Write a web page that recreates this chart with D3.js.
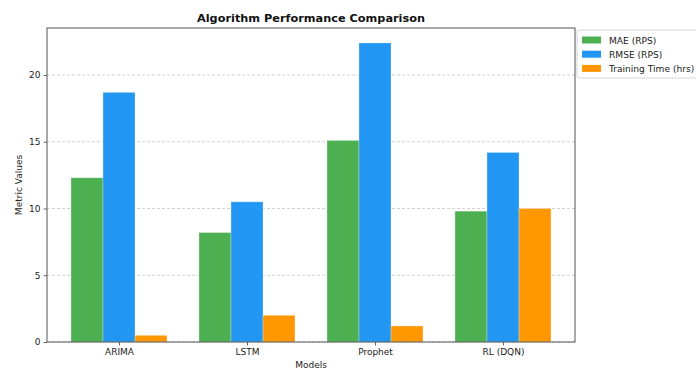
<!DOCTYPE html>
<html><head><meta charset="utf-8">
<script src="https://cdn.jsdelivr.net/npm/d3@7"></script>
<style>body{margin:0;background:#fff;} svg{display:block;font-family:"DejaVu Sans",sans-serif;}</style>
</head><body>
<svg id="c" width="696" height="370"></svg>
<script>
const categories = ["ARIMA", "LSTM", "Prophet", "RL (DQN)"];
const seriesNames = ["MAE (RPS)", "RMSE (RPS)", "Training Time (hrs)"];
const maeValues = [12.3, 8.2, 15.1, 9.8];
const rmseValues = [18.7, 10.5, 22.4, 14.2];
const trainingValues = [0.5, 2.0, 1.2, 10.0];
const seriesColors = ["#4CAF50", "#2196F3", "#FF9800"];
const yTicks = [0, 5, 10, 15, 20];

const series = [maeValues, rmseValues, trainingValues];
const svg = d3.select("#c");
const L = 47, R = 575, T = 28, B = 342;
const barW = 0.25;
const x = d3.scaleLinear().domain([-0.5625, 3.5625]).range([L, R]);
const ymax = d3.max(series.flat()) * 1.05;
const y = d3.scaleLinear().domain([0, ymax]).range([B, T]);

// grid
svg.append("g").selectAll("line").data(yTicks).join("line")
  .attr("x1", L).attr("x2", R).attr("y1", d => y(d)).attr("y2", d => y(d))
  .attr("stroke", "#b0b0b0").attr("stroke-width", 0.8).attr("stroke-dasharray", "3,2").attr("opacity", 0.7);

// bars
series.forEach((vals, si) => {
  svg.append("g").selectAll("rect").data(vals).join("rect")
    .attr("x", (d, i) => x(i + (si - 1) * barW - barW / 2))
    .attr("width", x(barW) - x(0))
    .attr("y", d => y(d))
    .attr("height", d => y(0) - y(d))
    .attr("fill", seriesColors[si])
    .attr("stroke", "#ffffff").attr("stroke-opacity", 0.35).attr("stroke-width", 0.8);
});

// axes
const xAxis = d3.axisBottom(x).tickValues(categories.map((c, i) => i)).tickFormat(i => categories[i]).tickSize(3.5).tickPadding(3);
const gx = svg.append("g").attr("transform", `translate(0,${B})`).call(xAxis);
const yAxis = d3.axisLeft(y).tickValues(yTicks).tickSize(3.5).tickPadding(3);
const gy = svg.append("g").attr("transform", `translate(${L},0)`).call(yAxis);
[gx, gy].forEach(g => {
  g.select(".domain").remove();
  g.selectAll("text").attr("font-size", 9).attr("fill", "#222").attr("font-family", "DejaVu Sans");
  g.selectAll("line").attr("stroke", "#444").attr("stroke-width", 0.8);
});

// frame
svg.append("rect").attr("x", L).attr("y", T).attr("width", R - L).attr("height", B - T)
  .attr("fill", "none").attr("stroke", "#555").attr("stroke-width", 1);

// title and labels
svg.append("text").attr("x", (L + R) / 2).attr("y", 22).attr("text-anchor", "middle")
  .attr("font-size", 11.3).attr("font-weight", "bold").attr("fill", "#111").text("Algorithm Performance Comparison");
svg.append("text").attr("x", (L + R) / 2).attr("y", 368).attr("text-anchor", "middle")
  .attr("font-size", 9).attr("fill", "#222").text("Models");
svg.append("text").attr("transform", `translate(22,${(T + B) / 2}) rotate(-90)`).attr("text-anchor", "middle")
  .attr("font-size", 9).attr("fill", "#222").text("Metric Values");

// legend
const lg = svg.append("g").attr("transform", "translate(577,30)");
lg.append("rect").attr("x", 0).attr("y", 0).attr("width", 130).attr("height", 48).attr("rx", 2)
  .attr("fill", "#fff").attr("stroke", "#ccc").attr("stroke-width", 0.8);
seriesNames.forEach((n, i) => {
  lg.append("rect").attr("x", 5).attr("y", 6.5 + i * 14.2).attr("width", 19).attr("height", 7).attr("fill", seriesColors[i]);
  lg.append("text").attr("x", 32).attr("y", 13.5 + i * 14.2).attr("font-size", 9.1).attr("fill", "#222").text(n);
});
</script>
</body></html>
